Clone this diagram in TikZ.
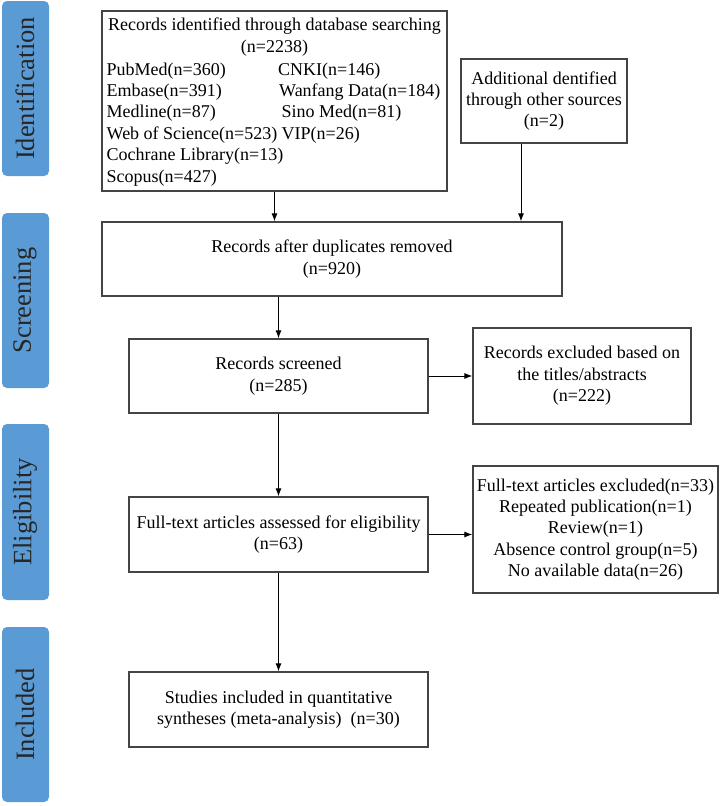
\documentclass[tikz,border=0pt]{standalone}
\usepackage{fontspec}
\setmainfont{Liberation Serif}
\usetikzlibrary{arrows.meta}
\definecolor{sideblue}{HTML}{5B9BD5}
\definecolor{boxline}{HTML}{444444}
\begin{document}
\begin{tikzpicture}[x=1pt,y=-1pt,
  txt/.style={font=\fontsize{18}{21.4}\selectfont, text=black, inner sep=0pt},
  box/.style={draw=boxline, line width=1.2pt, fill=white, align=center, inner sep=0pt,
    font=\fontsize{18}{21.4}\selectfont},
  side/.style={fill=sideblue, rounded corners=5pt, draw=none},
  sidetxt/.style={rotate=90, font=\fontsize{26.5}{30}\selectfont, text=black!85, inner sep=0pt},
  arr/.style={-{Latex[length=8pt,width=6pt]}, line width=1pt, black}]
\useasboundingbox (0,0) rectangle (720,806);
% side labels
\filldraw[side] (2,1) rectangle (49,176);
\filldraw[side] (2,213) rectangle (49,388);
\filldraw[side] (2,424) rectangle (49,600);
\filldraw[side] (2,627) rectangle (49,802);
\node[sidetxt] (sIdent) at (25,88.5) {Identification};
\node[sidetxt] (sScreen) at (25,300.5) {Screening};
\node[sidetxt] (sElig) at (25,512) {Eligibility};
\node[sidetxt] (sIncl) at (25,714.5) {Included};
% boxes
\node[box, minimum width=345pt, minimum height=180pt] (b1) at (274.5,101) {};
\node[txt, align=center] (b1t) at (274.5,37) {Records identified through database searching\\(n=2238)};
\node[txt, anchor=base west] (l1) at (106.5,75) {PubMed(n=360)};
\node[txt, anchor=base west] (l2) at (106.5,96.4) {Embase(n=391)};
\node[txt, anchor=base west] (l3) at (106.5,117.8) {Medline(n=87)};
\node[txt, anchor=base west] (l4) at (106.5,139.2) {Web of Science(n=523)};
\node[txt, anchor=base west] (l5) at (106.5,160.6) {Cochrane Library(n=13)};
\node[txt, anchor=base west] (l6) at (106.5,182) {Scopus(n=427)};
\node[txt, anchor=base west] (r1) at (278,75) {CNKI(n=146)};
\node[txt, anchor=base west] (r2) at (279,96.4) {Wanfang Data(n=184)};
\node[txt, anchor=base west] (r3) at (281.5,117.8) {Sino Med(n=81)};
\node[txt, anchor=base west] (r4) at (281.5,139.2) {VIP(n=26)};
\node[box, minimum width=166pt, minimum height=84pt] (b2) at (544,101) {Additional dentified\\through other sources\\(n=2)};
\node[box, minimum width=460pt, minimum height=74pt] (b3) at (332,259) {Records after duplicates removed\\(n=920)};
\node[box, minimum width=299pt, minimum height=74pt] (b4) at (278.5,376) {Records screened\\(n=285)};
\node[box, minimum width=218pt, minimum height=96pt] (b5) at (582,376) {Records excluded based on\\the titles/abstracts\\(n=222)};
\node[box, minimum width=299pt, minimum height=75pt] (b6) at (278.5,534.5) {Full-text articles assessed for eligibility\\(n=63)};
\node[box, minimum width=245pt, minimum height=127pt] (b7) at (595.5,529.5) {Full-text articles excluded(n=33)\\Repeated publication(n=1)\\Review(n=1)\\Absence control group(n=5)\\No available data(n=26)};
\node[box, minimum width=299pt, minimum height=75pt] (b8) at (278.5,709.5) {Studies included in quantitative\\syntheses (meta-analysis)\ \ (n=30)};
% arrows
\draw[arr] (b1.south) -- (b1.south |- b3.north);
\coordinate (b2a) at ([xshift=-23pt]b2.south);
\draw[arr] (b2a) -- (b2a |- b3.north);
\draw[arr] (b3.south -| b4.north) -- (b4.north);
\draw[arr] (b4.east) -- (b5.west);
\draw[arr] (b4.south) -- (b6.north);
\draw[arr] (b6.east) -- (b6.east -| b7.west);
\draw[arr] (b6.south) -- (b8.north);
\end{tikzpicture}
\end{document}
